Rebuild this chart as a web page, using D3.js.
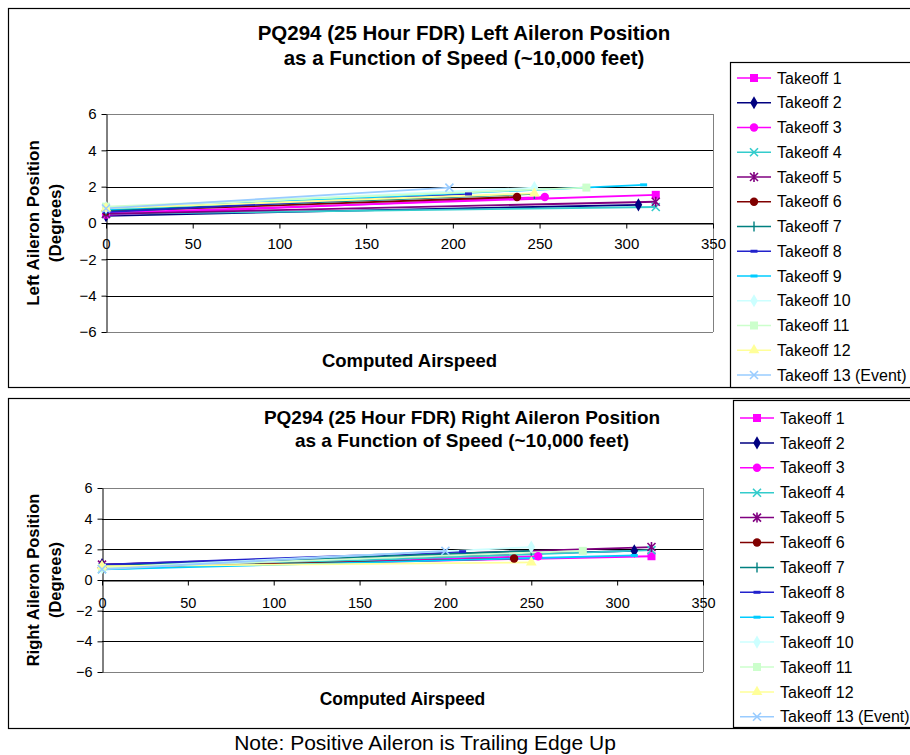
<!DOCTYPE html>
<html>
<head>
<meta charset="utf-8">
<script src="https://cdn.jsdelivr.net/npm/d3@7"></script>
<style>
  html, body { margin: 0; padding: 0; background: #fff; }
  svg { display: block; font-family: "Liberation Sans", Arial, sans-serif; }
</style>
</head>
<body>
<svg id="chart" width="910" height="755"></svg>
<script>
// ---- Data ----
const seriesNames = ["Takeoff 1", "Takeoff 2", "Takeoff 3", "Takeoff 4", "Takeoff 5", "Takeoff 6",
  "Takeoff 7", "Takeoff 8", "Takeoff 9", "Takeoff 10", "Takeoff 11", "Takeoff 12", "Takeoff 13 (Event)"];

// Computed airspeed (knots) at each recorded point, per takeoff
const leftSpeed = [[0, 317], [0, 307], [0, 253], [0, 317], [0, 317], [0, 237],
  [0, 247], [0, 209], [0, 310], [0, 247], [0, 277], [0, 247], [0, 198]];
// Left aileron position (degrees)
const leftPos = [[0.55, 1.55], [0.4, 1.0], [0.45, 1.43], [0.5, 0.88], [0.5, 1.17], [0.65, 1.43],
  [0.7, 1.6], [0.6, 1.6], [0.75, 2.1], [0.85, 1.95], [0.9, 1.95], [0.8, 1.63], [0.8, 1.95]];

const rightSpeed = [[0, 320], [0, 310], [0, 254], [0, 320], [0, 320], [0, 240],
  [0, 250], [0, 210], [0, 310], [0, 250], [0, 280], [0, 250], [0, 200]];
// Right aileron position (degrees)
const rightPos = [[0.8, 1.55], [1.0, 1.9], [0.8, 1.55], [0.7, 1.95], [1.0, 2.15], [0.8, 1.4],
  [0.9, 1.9], [1.0, 1.85], [0.7, 1.6], [0.8, 2.15], [0.8, 1.9], [0.9, 1.15], [0.7, 1.9]];

const xTicks = [0, 50, 100, 150, 200, 250, 300, 350];
const yTicks = [-6, -4, -2, 0, 2, 4, 6];

// ---- Series styling ----
const seriesColors = ["#FF00FF", "#000080", "#FF00FF", "#33CCCC", "#800080", "#800000",
  "#008080", "#2222CC", "#00CCFF", "#CCFFFF", "#CCFFCC", "#FFFF99", "#99CCFF"];
const seriesMarkers = ["square", "diamond", "circle", "x", "star", "circle",
  "plus", "dash", "dash", "diamond", "square", "triangle", "x"];

const svg = d3.select("#chart");

function drawMarker(g, type, cx, cy, color) {
  const m = g.append("g").attr("transform", `translate(${cx},${cy})`);
  switch (type) {
    case "square":
      m.append("rect").attr("x", -4).attr("y", -4).attr("width", 8).attr("height", 8).attr("fill", color);
      break;
    case "diamond":
      m.append("path").attr("d", d3.symbol(d3.symbolDiamond, 50)()).attr("fill", color);
      break;
    case "circle":
      m.append("circle").attr("r", 4.2).attr("fill", color);
      break;
    case "triangle":
      m.append("path").attr("d", d3.symbol(d3.symbolTriangle, 50)()).attr("fill", color);
      break;
    case "x":
      m.append("path").attr("d", "M-4,-4L4,4M-4,4L4,-4").attr("stroke", color).attr("stroke-width", 1.6).attr("fill", "none");
      break;
    case "star":
      m.append("path").attr("d", "M-4,-4L4,4M-4,4L4,-4M0,-5L0,5").attr("stroke", color).attr("stroke-width", 1.6).attr("fill", "none");
      break;
    case "plus":
      m.append("path").attr("d", "M0,-5L0,5").attr("stroke", color).attr("stroke-width", 1.4).attr("fill", "none");
      break;
    case "dash":
      m.append("path").attr("d", "M-3.5,0L3.5,0").attr("stroke", color).attr("stroke-width", 3).attr("fill", "none");
      break;
  }
}

function drawChart(cfg) {
  const root = svg.append("g");

  // chart frame
  root.append("rect").attr("x", cfg.frame[0] + 0.5).attr("y", cfg.frame[1] + 0.5)
    .attr("width", cfg.frame[2]).attr("height", cfg.frame[3])
    .attr("fill", "#fff").attr("stroke", "#000").attr("stroke-width", 1.2);

  const x = d3.scaleLinear().domain([0, 350]).range(cfg.xRange);
  const y = d3.scaleLinear().domain([-6, 6]).range(cfg.yRange);

  // title
  cfg.title.forEach((t, i) => {
    root.append("text").attr("x", cfg.titleX).attr("y", cfg.titleY + i * cfg.titleStep)
      .attr("text-anchor", "middle").attr("font-weight", "bold").attr("font-size", cfg.titleSize)
      .attr("fill", "#000").text(t);
  });

  // gridlines
  root.append("g").selectAll("line").data(yTicks).join("line")
    .attr("x1", cfg.xRange[0]).attr("x2", cfg.xRange[1])
    .attr("y1", d => Math.round(y(d)) + 0.5).attr("y2", d => Math.round(y(d)) + 0.5)
    .attr("stroke", d => (Math.abs(d) === 6 ? "#808080" : "#000")).attr("stroke-width", 1);
  // plot right border
  root.append("line").attr("x1", cfg.xRange[1] + 0.5).attr("x2", cfg.xRange[1] + 0.5)
    .attr("y1", y(6)).attr("y2", y(-6)).attr("stroke", "#808080");

  // y axis at x = 0
  const yAxis = root.append("g").attr("transform", `translate(${Math.round(x(0)) + 0.5},0)`)
    .call(d3.axisLeft(y).tickValues(yTicks).tickSize(5).tickSizeOuter(0).tickPadding(5));
  yAxis.select(".domain").attr("stroke", "#000");
  yAxis.selectAll("text").attr("font-size", cfg.tickSize).attr("fill", "#000").attr("font-family", "Liberation Sans, Arial, sans-serif");

  // x axis at y = 0
  const xAxis = root.append("g").attr("transform", `translate(0,${Math.round(y(0)) + 0.5})`)
    .call(d3.axisBottom(x).tickValues(xTicks).tickSize(5).tickSizeOuter(0).tickPadding(cfg.xPad));
  xAxis.select(".domain").attr("stroke", "#000");
  xAxis.selectAll("text").attr("font-size", cfg.tickSize).attr("fill", "#000").attr("font-family", "Liberation Sans, Arial, sans-serif");

  // axis titles
  root.append("text").attr("x", (cfg.xRange[0] + cfg.xRange[1]) / 2).attr("y", cfg.xTitleY)
    .attr("text-anchor", "middle").attr("font-weight", "bold").attr("font-size", cfg.xTitleSize).text("Computed Airspeed");
  cfg.yTitle.forEach((t, i) => {
    root.append("text")
      .attr("transform", `translate(${cfg.yTitleX + i * 22},${(cfg.yRange[0] + cfg.yRange[1]) / 2}) rotate(-90)`)
      .attr("text-anchor", "middle").attr("font-weight", "bold").attr("font-size", cfg.yTitleSize).text(t);
  });

  // series
  const line = d3.line().x(d => x(d[0])).y(d => y(d[1]));
  const seriesG = root.append("g");
  cfg.speeds.forEach((sp, i) => {
    const pts = sp.map((s, k) => [s, cfg.values[i][k]]);
    seriesG.append("path").datum(pts).attr("d", line)
      .attr("fill", "none").attr("stroke", seriesColors[i]).attr("stroke-width", 1.8);
  });
  cfg.speeds.forEach((sp, i) => {
    sp.forEach((s, k) => drawMarker(seriesG, seriesMarkers[i], x(s), y(cfg.values[i][k]), seriesColors[i]));
  });

  // legend
  const lg = root.append("g");
  lg.append("rect").attr("x", cfg.legend[0] + 0.5).attr("y", cfg.legend[1] + 0.5)
    .attr("width", cfg.legend[2]).attr("height", cfg.legend[3])
    .attr("fill", "#fff").attr("stroke", "#000").attr("stroke-width", 1.2);
  seriesNames.forEach((name, i) => {
    const ly = cfg.legendY0 + i * cfg.legendStep;
    const lx = cfg.legend[0] + 7;
    lg.append("line").attr("x1", lx).attr("x2", lx + 34).attr("y1", ly).attr("y2", ly)
      .attr("stroke", seriesColors[i]).attr("stroke-width", 1.5);
    drawMarker(lg, seriesMarkers[i], lx + 17, ly, seriesColors[i]);
    lg.append("text").attr("x", lx + 40).attr("y", ly).attr("dy", "0.35em")
      .attr("font-size", 16).attr("fill", "#000").text(name);
  });
}

drawChart({
  frame: [8, 8, 910, 379],
  title: ["PQ294 (25 Hour FDR) Left Aileron Position", "as a Function of Speed (~10,000 feet)"],
  titleX: 464, titleY: 40, titleStep: 25, titleSize: 20.5,
  xRange: [106, 713], yRange: [332, 114], xPad: 10, tickSize: 15,
  xTitleY: 367, xTitleSize: 18.5, yTitleSize: 17,
  yTitle: ["Left Aileron Position", "(Degrees)"], yTitleX: 39,
  speeds: leftSpeed, values: leftPos,
  legend: [730, 62, 190, 325], legendY0: 78, legendStep: 24.75
});

drawChart({
  frame: [8, 398, 910, 330],
  title: ["PQ294 (25 Hour FDR) Right Aileron Position", "as a Function of Speed (~10,000 feet)"],
  titleX: 462, titleY: 424, titleStep: 23, titleSize: 19,
  xRange: [102, 703], yRange: [672, 488], xPad: 12, tickSize: 14.5,
  xTitleY: 705, xTitleSize: 17.5, yTitleSize: 16.5,
  yTitle: ["Right Aileron Position", "(Degrees)"], yTitleX: 39,
  speeds: rightSpeed, values: rightPos,
  legend: [733, 400, 190, 327], legendY0: 418, legendStep: 24.9
});

svg.append("text").attr("x", 425).attr("y", 750).attr("text-anchor", "middle")
  .attr("font-size", 21).attr("fill", "#000").text("Note: Positive Aileron is Trailing Edge Up");
</script>
</body>
</html>
